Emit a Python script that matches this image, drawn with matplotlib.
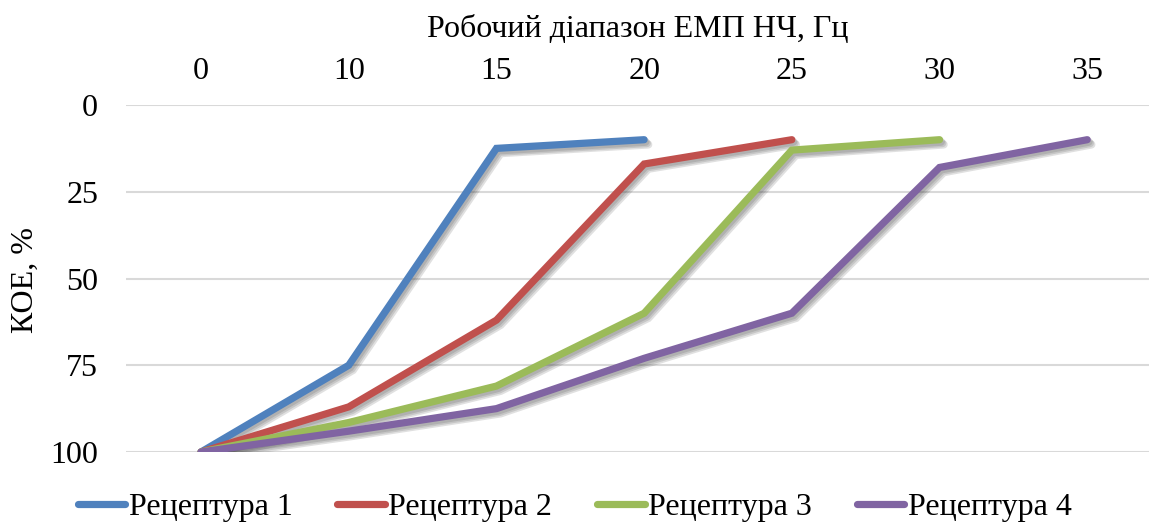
import matplotlib
matplotlib.use("Agg")
import matplotlib.pyplot as plt
import matplotlib.patheffects as pe

# Operating frequency categories (Hz) and KOE values (%) per recipe
freq_labels = ["0", "10", "15", "20", "25", "30", "35"]
recipe_1 = [100, 75, 12.5, 10]
recipe_2 = [100, 87, 62, 17, 10]
recipe_3 = [100, 91.5, 81, 60, 13, 10]
recipe_4 = [100, 94, 87.5, 73, 60, 18, 10]
series_names = ["Рецептура 1", "Рецептура 2", "Рецептура 3", "Рецептура 4"]
colors = ["#4F81BD", "#C0504D", "#9BBB59", "#8064A2"]

plt.rcParams["font.family"] = ["Liberation Serif", "DejaVu Serif"]
FS = 23

fig = plt.figure(figsize=(11.49, 5.24), dpi=100)
ax = fig.add_axes([126 / 1149, 1 - 452 / 524, 1 - 126 / 1149, 347 / 524])

# soft drop shadow built from a few faint offset strokes
shadow = [pe.SimpleLineShadow(offset=(o, -o - 0.5), alpha=0.15, shadow_color="#333333",
                              linewidth=5.8)
          for o in (1.0, 2.0, 3.0)] + [pe.Normal()]

for name, vals, c in zip(series_names, [recipe_1, recipe_2, recipe_3, recipe_4], colors):
    xs = list(range(len(vals)))
    ax.plot(xs, vals, color=c, lw=5.2, solid_capstyle="round",
            solid_joinstyle="miter", label=name, path_effects=shadow, zorder=3)

ax.set_ylim(100, 0)
ax.set_yticks([0, 25, 50, 75, 100])
ax.set_xlim(-0.508, 6.418)
ax.set_xticks(range(len(freq_labels)))
ax.set_xticklabels(freq_labels)
ax.xaxis.tick_top()
ax.xaxis.set_label_position("top")
ax.tick_params(axis="both", length=0, labelsize=FS)
ax.tick_params(axis="x", pad=14)
ax.tick_params(axis="y", pad=20)
for s in ax.spines.values():
    s.set_visible(False)
ax.grid(axis="y", color="#D9D9D9", lw=1.5)
ax.set_axisbelow(True)

ax.set_xlabel("Робочий діапазон ЕМП НЧ, Гц", fontsize=FS, labelpad=14)
fig.text(25 / 1149, 1 - 280 / 524, "КОЕ, %", rotation=90, fontsize=FS,
         ha="center", va="center")

leg_handles = [plt.Line2D([], [], color=c, lw=5.2, solid_capstyle="round") for c in colors]
fig.legend(leg_handles, series_names, loc="center", bbox_to_anchor=(0.5, 1 - 507 / 524),
           ncol=4, frameon=False, fontsize=FS, handlelength=1.5, handletextpad=0.1,
           columnspacing=1.4, borderpad=0.2)

fig.savefig("out.png", dpi=100, facecolor="white")
